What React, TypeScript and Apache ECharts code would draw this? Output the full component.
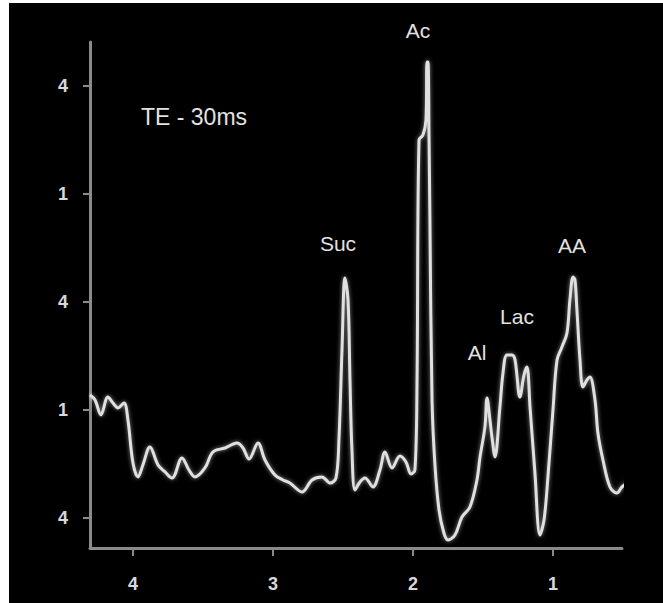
import React, { useEffect, useRef } from "react";
import * as echarts from "echarts";

// Chemical shift (ppm) and signal intensity of the spectrum trace
const ppm: number[] = [
  4.307, 4.271, 4.229, 4.179, 4.143, 4.107, 4.064, 4.036, 4.0, 3.964, 3.929, 3.879, 3.821, 3.771, 3.721,
  3.65, 3.6, 3.557, 3.486, 3.429, 3.343, 3.257, 3.214, 3.171, 3.107, 3.057, 2.986, 2.929, 2.879, 2.793,
  2.721, 2.65, 2.593, 2.55, 2.529, 2.507, 2.486, 2.464, 2.45, 2.436, 2.414, 2.379, 2.343, 2.286, 2.236,
  2.2, 2.15, 2.093, 2.05, 2.014, 1.986, 1.971, 1.957, 1.929, 1.907, 1.9, 1.893, 1.886, 1.879, 1.864,
  1.843, 1.814, 1.779, 1.75, 1.7, 1.65, 1.593, 1.543, 1.521, 1.486, 1.471, 1.45, 1.436, 1.414, 1.379,
  1.357, 1.329, 1.293, 1.271, 1.236, 1.207, 1.186, 1.164, 1.129, 1.093, 1.064, 1.036, 1.0, 0.971, 0.936,
  0.9, 0.879, 0.857, 0.843, 0.829, 0.807, 0.786, 0.757, 0.736, 0.7, 0.679, 0.643, 0.593, 0.543, 0.507,
  0.464, 0.443,
];
const intensity: number[] = [
  2.139, 2.093, 1.954, 2.12, 2.065, 2.019, 2.065, 1.907, 1.509, 1.38, 1.491, 1.657, 1.491, 1.426, 1.37,
  1.556, 1.444, 1.38, 1.463, 1.611, 1.648, 1.694, 1.648, 1.546, 1.694, 1.537, 1.398, 1.352, 1.324, 1.241,
  1.352, 1.38, 1.324, 1.37, 1.722, 2.556, 3.222, 3.019, 2.278, 1.63, 1.259, 1.333, 1.37, 1.287, 1.444,
  1.611, 1.463, 1.574, 1.519, 1.407, 1.444, 2.278, 4.5, 4.546, 4.685, 5.222, 5.222, 4.593, 3.759, 2.093,
  1.491, 1.074, 0.861, 0.796, 0.843, 1.009, 1.102, 1.352, 1.565, 1.843, 2.111, 1.907, 1.75, 1.565, 2.028,
  2.343, 2.509, 2.509, 2.463, 2.12, 2.324, 2.398, 2.028, 1.417, 0.843, 0.981, 1.38, 2.0, 2.463, 2.583,
  2.713, 3.019, 3.231, 3.204, 2.926, 2.463, 2.213, 2.278, 2.306, 2.093, 1.787, 1.537, 1.287, 1.231, 1.287,
  1.324, 1.278,
];

const xTickValues: number[] = [1, 2, 3, 4];
const xTickLabels: string[] = ["1", "2", "3", "4"];
const yTickValues: number[] = [1, 2, 3, 4, 5];
const yTickLabels: string[] = ["4", "1", "4", "1", "4"];

const peakLabels: string[] = ["Ac", "Suc", "Al", "Lac", "AA"];
const title = "TE - 30ms";

export default function App() {
  const ref = useRef<HTMLDivElement>(null);
  useEffect(() => {
    if (!ref.current) return;
    const chart = echarts.init(ref.current, null, { renderer: "svg" });
    const fg = "#e2e2e2";
    const axisCol = "#8a8a8a";
    const font = "'Liberation Sans', Arial, sans-serif";
    const labelPos: [number, number][] = [
      [418, 30],
      [338, 243],
      [477, 352],
      [517, 316],
      [572, 245],
    ];
    const graphics: any[] = peakLabels.map((t, i) => ({
      type: "text",
      x: labelPos[i][0] - 9,
      y: labelPos[i][1] - 3,
      style: {
        text: t,
        fill: fg,
        font: `21px ${font}`,
        textAlign: "center",
        textVerticalAlign: "middle",
      },
    }));
    graphics.push({
      type: "text",
      x: 194 - 9,
      y: 117 - 3,
      style: {
        text: title,
        fill: fg,
        font: `23px ${font}`,
        textAlign: "center",
        textVerticalAlign: "middle",
      },
    });
    chart.setOption({
      animation: false,
      backgroundColor: "#000",
      grid: { left: 81, right: 41, top: 39, bottom: 55 },
      xAxis: {
        type: "value",
        inverse: true,
        min: 0.507,
        max: 4.307,
        axisLine: { show: true, lineStyle: { color: axisCol, width: 3 } },
        axisTick: {
          show: true,
          length: 8,
          customValues: xTickValues,
          lineStyle: { color: axisCol, width: 2 },
        },
        axisLabel: {
          customValues: xTickValues,
          formatter: (v: number) => xTickLabels[xTickValues.indexOf(Math.round(v))] ?? "",
          color: "#d8d8d8",
          fontSize: 18,
          fontWeight: "bold",
          fontFamily: font,
          margin: 27,
        },
        splitLine: { show: false },
      },
      yAxis: {
        type: "value",
        min: 0.722,
        max: 5.407,
        axisLine: { show: true, lineStyle: { color: axisCol, width: 3 } },
        axisTick: {
          show: true,
          length: 7,
          customValues: yTickValues,
          lineStyle: { color: axisCol, width: 2 },
        },
        axisLabel: {
          customValues: yTickValues,
          formatter: (v: number) => yTickLabels[yTickValues.indexOf(Math.round(v))] ?? "",
          color: "#d8d8d8",
          fontSize: 18,
          fontWeight: "bold",
          fontFamily: font,
          margin: 22,
        },
        splitLine: { show: false },
      },
      series: [
        {
          type: "line",
          data: ppm.map((p, i) => [p, intensity[i]]),
          showSymbol: false,
          smooth: 0.35,
          clip: false,
          lineStyle: {
            color: "#e0e0e0",
            width: 3,
            shadowColor: "rgba(255,255,255,0.55)",
            shadowBlur: 4,
          },
        },
      ],
      graphic: graphics,
    });
    return () => chart.dispose();
  }, []);
  return (
    <div style={{ position: "fixed", left: 0, top: 0, width: 663, height: 603, background: "#fff" }}>
      <div ref={ref} style={{ position: "absolute", left: 9, top: 3, width: 654, height: 600 }} />
    </div>
  );
}
